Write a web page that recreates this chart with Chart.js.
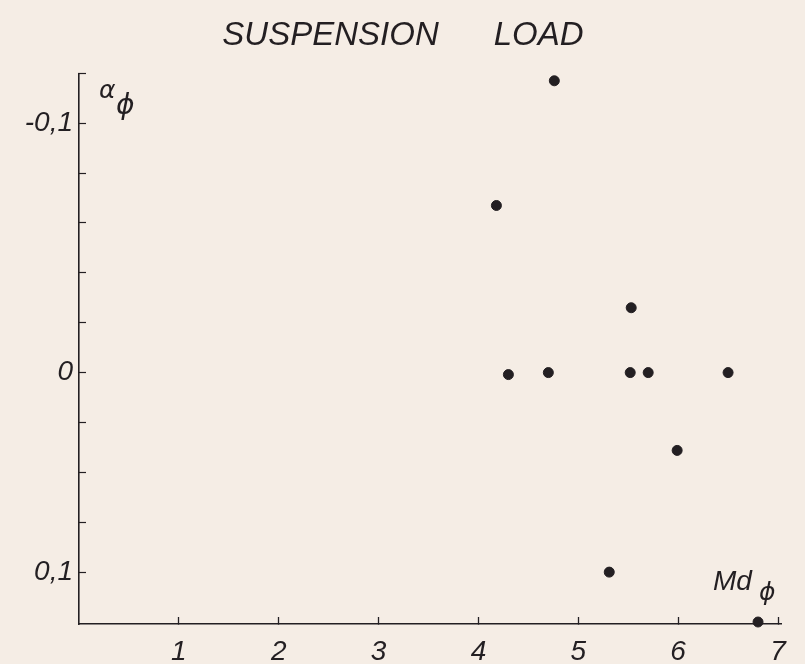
<!DOCTYPE html>
<html>
<head>
<meta charset="utf-8">
<script src="https://cdn.jsdelivr.net/npm/chart.js@4/dist/chart.umd.min.js"></script>
<style>
  html, body { margin: 0; padding: 0; background: #f5ede5; }
  #wrap { width: 805px; height: 664px; }
</style>
</head>
<body>
<div id="wrap"><canvas id="chart_container" width="805" height="664"></canvas></div>
<script>
// values (Md_phi, alpha_phi)
const mdPhi    = [4.76, 4.18, 5.53, 4.30, 4.70, 5.52, 5.70, 6.50, 5.99, 5.31, 6.80];
const alphaPhi = [-0.117, -0.067, -0.026, 0.001, 0.0, 0.0, 0.0, 0.0, 0.039, 0.100, 0.125];

const xTicks = [0, 1, 2, 3, 4, 5, 6, 7];
// the drawn y axis uses steps of 0.02 above zero and 0.025 below it
const yTicks = [-0.12, -0.1, -0.08, -0.06, -0.04, -0.02, 0, 0.025, 0.05, 0.075, 0.1];
const yLabels = { '-0.1': '-0,1', '0': '0', '0.1': '0,1' };
const upperStep = 0.02;
const lowerStep = 0.025;

const ink = '#231f22';

// linear scale with a different step length on each side of zero
class SplitScale extends Chart.LinearScale {
    splitAt() {
        const up = -this.min / upperStep;
        const down = this.max / lowerStep;
        return up / (up + down);
    }
    getPixelForValue(value) {
        if (value === null || value === undefined || isNaN(value)) return NaN;
        const s = this.splitAt();
        let d;
        if (value <= 0) d = (value - this.min) / (0 - this.min) * s;
        else d = s + value / this.max * (1 - s);
        return this.getPixelForDecimal(d);
    }
    getValueForPixel(pixel) {
        const d = this.getDecimalForPixel(pixel);
        const s = this.splitAt();
        return d <= s ? this.min + d / s * (-this.min) : (d - s) / (1 - s) * this.max;
    }
}
SplitScale.id = 'split';
SplitScale.defaults = Chart.LinearScale.defaults;
Chart.register(SplitScale);

const tickFont = { family: 'Liberation Sans', style: 'italic', size: 28 };

const axisNames = {
    id: 'axisNames',
    afterDraw(chart) {
        const ctx = chart.ctx;
        const a = chart.chartArea;
        ctx.save();
        ctx.fillStyle = ink;
        ctx.textBaseline = 'alphabetic';
        ctx.textAlign = 'left';
        ctx.font = 'italic 25px "DejaVu Sans"';
        ctx.fillText('α', a.left + 20, a.top + 25);
        ctx.font = 'italic 28px "DejaVu Sans"';
        ctx.fillText('ϕ', a.left + 37, a.top + 41);
        ctx.font = 'italic 28px "Liberation Sans"';
        ctx.fillText('Md', a.right - 68, a.bottom - 34);
        ctx.font = 'italic 25px "DejaVu Sans"';
        ctx.fillText('ϕ', a.right - 22, a.bottom - 24);
        ctx.restore();
    }
};

const chartOpts = {
    type: 'scatter',
    data: {
        datasets: [{
            label: 'suspension load',
            data: mdPhi.map(function (x, i) { return { x: x, y: alphaPhi[i] }; }),
            backgroundColor: ink,
            borderColor: ink,
            pointRadius: 5,
            pointHoverRadius: 5,
            clip: false
        }]
    },
    options: {
        responsive: false,
        animation: false,
        layout: { padding: { left: 0, right: 24, top: 0, bottom: 0 } },
        plugins: {
            legend: { display: false },
            tooltip: { enabled: false },
            title: {
                display: true,
                text: '\u00a0\u00a0\u2009SUSPENSION      LOAD',
                color: ink,
                font: { family: 'Liberation Sans', style: 'italic', weight: 'normal', size: 33, lineHeight: 1.1 },
                padding: { top: 18, bottom: 19 }
            }
        },
        scales: {
            x: {
                type: 'linear',
                min: 0,
                max: 7.03,
                afterBuildTicks: function (scale) {
                    scale.ticks = xTicks.map(function (v) { return { value: v }; });
                },
                afterFit: function (scale) { scale.height = 40; },
                ticks: {
                    color: ink,
                    font: tickFont,
                    padding: 18,
                    maxRotation: 0,
                    autoSkip: false,
                    callback: function (v) { return v === 0 ? '' : String(v); }
                },
                grid: {
                    drawOnChartArea: false,
                    drawTicks: true,
                    tickLength: -7,
                    tickWidth: 1.3,
                    tickColor: function (c) { return c.tick && c.tick.value === 0 ? 'rgba(0,0,0,0)' : ink; }
                },
                border: { display: true, color: ink, width: 1.6 }
            },
            y: {
                type: 'split',
                reverse: true,
                min: -0.12,
                max: 0.126,
                afterBuildTicks: function (scale) {
                    scale.ticks = yTicks.map(function (v) { return { value: v }; });
                },
                afterFit: function (scale) { scale.width = 79; },
                ticks: {
                    color: ink,
                    font: tickFont,
                    padding: 13,
                    autoSkip: false,
                    callback: function (v) {
                        const k = String(Math.round(v * 1000) / 1000);
                        return yLabels[k] !== undefined ? yLabels[k] : '';
                    }
                },
                grid: {
                    drawOnChartArea: false,
                    drawTicks: true,
                    tickLength: -7,
                    tickWidth: 1.2,
                    tickColor: ink
                },
                border: { display: true, color: ink, width: 1.6 }
            }
        }
    },
    plugins: [axisNames]
};

new Chart(document.getElementById('chart_container'), chartOpts);
</script>
</body>
</html>
